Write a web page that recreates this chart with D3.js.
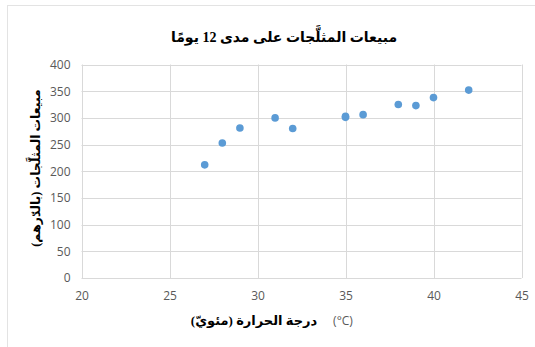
<!DOCTYPE html>
<html>
<head>
<meta charset="utf-8">
<script src="https://cdn.jsdelivr.net/npm/d3@7"></script>
<style>
  body { margin: 0; background: #fff; }
</style>
</head>
<body>
<div id="chart"></div>
<script>
// data
var temperatures = [27, 28, 29, 31, 32, 35, 35, 36, 38, 39, 40, 42];
var sales = [212, 253, 281, 300, 280, 301, 303, 306, 325, 323, 338, 352];
var xTicks = [20, 25, 30, 35, 40, 45];
var yTicks = [0, 50, 100, 150, 200, 250, 300, 350, 400];
var title = 'مبيعات المثلَّجات على مدى 12 يومًا';
var xLabel = 'درجة الحرارة (مئويّ)';
var xUnit = '(°C)';
var yLabel = 'مبيعات المثلَّجات (بالدّرهم)';

var w = 535;
var h = 347;
var plotLeft = 81.5, plotRight = 521.5, plotTop = 64.5, plotBottom = 278;

var svg = d3.select('#chart')
  .append('svg')
  .attr('width', w)
  .attr('height', h);

// outer chart frame
svg.append('rect')
  .attr('x', 7.5).attr('y', 5.5)
  .attr('width', 540).attr('height', 360)
  .attr('fill', '#fff')
  .attr('stroke', '#e3e3e3');

var x_scale = d3.scaleLinear().domain([20, 45]).range([plotLeft, plotRight]);
var y_scale = d3.scaleLinear().domain([0, 400]).range([plotBottom, plotTop]);

// gridlines
svg.append('g')
  .selectAll('line')
  .data(yTicks)
  .enter()
  .append('line')
  .attr('x1', plotLeft).attr('x2', plotRight)
  .attr('y1', function(d) { return Math.round(y_scale(d)) + 0.5; })
  .attr('y2', function(d) { return Math.round(y_scale(d)) + 0.5; })
  .attr('stroke', '#d9d9d9');

svg.append('g')
  .selectAll('line')
  .data(xTicks)
  .enter()
  .append('line')
  .attr('y1', plotTop).attr('y2', plotBottom)
  .attr('x1', function(d) { return Math.round(x_scale(d)) + 0.5; })
  .attr('x2', function(d) { return Math.round(x_scale(d)) + 0.5; })
  .attr('stroke', '#d9d9d9');

// axes (labels only)
var x_axis = d3.axisBottom(x_scale).tickValues(xTicks).tickSize(0).tickPadding(13);
var y_axis = d3.axisLeft(y_scale).tickValues(yTicks).tickSize(0).tickPadding(11);

var gx = svg.append('g')
  .attr('transform', 'translate(0,' + plotBottom + ')')
  .call(x_axis);
var gy = svg.append('g')
  .attr('transform', 'translate(' + plotLeft + ',0)')
  .call(y_axis);

[gx, gy].forEach(function(g) {
  g.select('.domain').remove();
  g.selectAll('text')
    .attr('fill', '#595959')
    .style('font-family', '"Open Sans", "Liberation Sans", sans-serif')
    .style('font-size', '12px');
});

// points
var pts = temperatures.map(function(t, i) { return { t: t, s: sales[i] }; });
svg.selectAll('circle')
  .data(pts)
  .enter()
  .append('circle')
  .attr('cx', function(d) { return x_scale(d.t); })
  .attr('cy', function(d) { return y_scale(d.s); })
  .attr('r', 3.8)
  .attr('fill', '#5b9bd5');

// title
svg.append('text')
  .attr('x', 284).attr('y', 42)
  .attr('text-anchor', 'middle')
  .style('font-family', '"Liberation Serif", "DejaVu Sans", serif')
  .style('font-weight', 'bold')
  .style('font-size', '14px')
  .attr('fill', '#000')
  .text(title);

// x label
svg.append('text')
  .attr('x', 254).attr('y', 325)
  .attr('text-anchor', 'middle')
  .style('font-family', '"Liberation Serif", "DejaVu Sans", serif')
  .style('font-weight', 'bold')
  .style('font-size', '13px')
  .text(xLabel);

svg.append('text')
  .attr('x', 343).attr('y', 325)
  .attr('text-anchor', 'middle')
  .attr('fill', '#595959')
  .style('font-family', '"Open Sans", "Liberation Sans", sans-serif')
  .style('font-size', '12px')
  .text(xUnit);

// y label
svg.append('text')
  .attr('transform', 'translate(36,168) rotate(-90)')
  .attr('text-anchor', 'middle')
  .attr('dy', '0.35em')
  .style('font-family', '"Liberation Serif", "DejaVu Sans", serif')
  .style('font-weight', 'bold')
  .style('font-size', '12.5px')
  .text(yLabel);
</script>
</body>
</html>
